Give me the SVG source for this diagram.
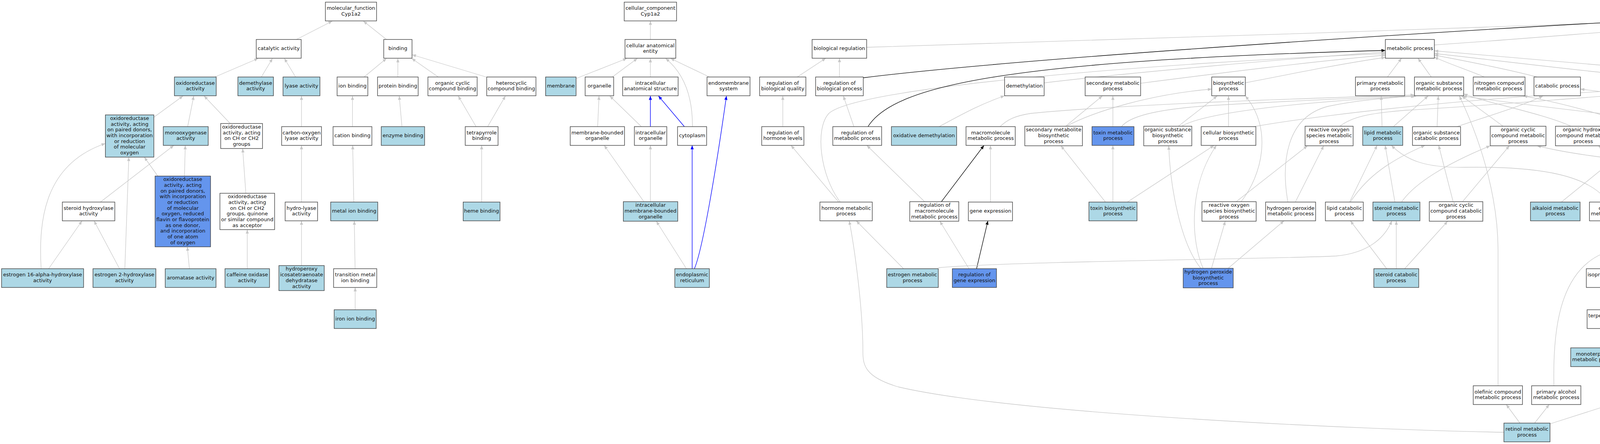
<svg xmlns="http://www.w3.org/2000/svg" width="6264" height="1136" viewBox="0 0 6264 1136">
<defs>
<style>
.w{fill:#ffffff}.lb{fill:#add8e6}.cb{fill:#6495ed}
.nd rect{stroke:#404040;stroke-width:1.4}
.nd text{font-family:"DejaVu Sans","Liberation Sans",sans-serif;font-size:13px;text-anchor:middle;fill:#111111}
.e{fill:none;stroke:#c8c8c8;stroke-width:1.3;marker-end:url(#ag)}
.eb{fill:none;stroke:#0000ff;stroke-width:1.4;marker-end:url(#ab)}
.ek{fill:none;stroke:#000000;stroke-width:1.3;marker-end:url(#ak)}
</style>
<marker id="ag" viewBox="0 0 10 8" markerWidth="10" markerHeight="8" refX="10" refY="4" orient="auto" markerUnits="userSpaceOnUse"><path d="M0,0 L10,4 L0,8 z" fill="#c8c8c8"/></marker>
<marker id="ab" viewBox="0 0 10 8" markerWidth="10" markerHeight="8" refX="10" refY="4" orient="auto" markerUnits="userSpaceOnUse"><path d="M0,0 L10,4 L0,8 z" fill="#0000ff"/></marker>
<marker id="ak" viewBox="0 0 10 8" markerWidth="10" markerHeight="8" refX="10" refY="4" orient="auto" markerUnits="userSpaceOnUse"><path d="M0,0 L10,4 L0,8 z" fill="#000000"/></marker>
</defs>
<rect x="0" y="0" width="6264" height="1136" fill="#ffffff"/>
<g id="connectors">
<path class="e" d="M758.8,101 L850.6,54"/>
<path class="e" d="M989.4,101 L930.2,54"/>
<path class="e" d="M550,197 L661,149.5"/>
<path class="e" d="M669,197 L697.6,149.5"/>
<path class="e" d="M756.7,197 L728,149.5"/>
<path class="e" d="M932,197 L989.4,149.5"/>
<path class="e" d="M1018.5,197 L1018.5,149.5"/>
<path class="e" d="M1122,197 L1054,149.5"/>
<path class="e" d="M1244.5,197 L1055,140"/>
<path class="e" d="M393.8,300 L468.6,245.5"/>
<path class="e" d="M480.4,324 L496,245.5"/>
<path class="e" d="M589.4,316 L522.4,245.5"/>
<path class="e" d="M404,450.5 L369.4,402"/>
<path class="e" d="M472.2,450.5 L474.3,372"/>
<path class="e" d="M257,517 L445,372"/>
<path class="e" d="M629.4,494.5 L621.2,380"/>
<path class="e" d="M105.3,687.5 C98,560 115,420 269.8,367"/>
<path class="e" d="M124.5,687.5 L210,565"/>
<path class="e" d="M306,687.5 L240.8,565"/>
<path class="e" d="M319.6,687.5 L329.8,402"/>
<path class="e" d="M484.9,687.5 L479.6,631.5"/>
<path class="e" d="M633,687.5 L633,587.5"/>
<path class="e" d="M771.8,324 L771.8,245.5"/>
<path class="e" d="M771.8,517 L771.8,372"/>
<path class="e" d="M771.8,679.5 L771.8,565"/>
<path class="e" d="M902.4,324 L902.4,245.5"/>
<path class="e" d="M905.7,517 L902.9,372"/>
<path class="e" d="M909,687.5 L907,565"/>
<path class="e" d="M909.3,792.5 L909.3,735.5"/>
<path class="e" d="M1029,324 L1022,245.5"/>
<path class="e" d="M1218.8,324 L1173,245.5"/>
<path class="e" d="M1248.3,324 L1293.9,245.5"/>
<path class="e" d="M1233,517 L1233,372"/>
<path class="e" d="M1665,101 L1665,53.5"/>
<path class="e" d="M1474.6,201 L1604.8,149.5"/>
<path class="e" d="M1567.5,197 L1631.7,149.5"/>
<path class="e" d="M1665,197 L1665,149.5"/>
<path class="e" d="M1772.7,324 C1773,265 1760,195 1704,149.5"/>
<path class="e" d="M1816.2,197 L1716.7,149.5"/>
<path class="e" d="M1530,324 L1533.5,245.5"/>
<path class="e" d="M1642,324 L1561,245.5"/>
<path class="eb" d="M1665,324 L1665,245.5"/>
<path class="eb" d="M1752,324 L1685.6,245.5"/>
<path class="e" d="M1648.3,516 L1546.8,372"/>
<path class="e" d="M1665,516 L1665,372"/>
<path class="e" d="M1757.3,687.5 L1680.2,566"/>
<path class="eb" d="M1771.9,687.5 L1771.9,372"/>
<path class="eb" d="M1777.7,687.5 C1800,635 1835,420 1859.7,245.5"/>
<path class="e" d="M4620,101 L4620,53.5"/>
<path class="e" d="M4866.6,108 L4683.5,52"/>
<path class="e" d="M5860,119.5 C5500,95 5000,55 4683.5,36"/>
<path class="e" d="M5707.7,208 C5400,175 5000,85 4683.5,44"/>
<path class="e" d="M3672,115 C3900,100 4300,65 4557,50"/>
<path class="e" d="M2218.6,121 C2800,108 4000,60 4557,43"/>
<path class="ek" d="M2210,199 C2600,150 3800,70 4557,35"/>
<path class="e" d="M4908,197 L4908,149"/>
<path class="e" d="M4849,200 L4674,146"/>
<path class="e" d="M5401,212 C5250,190 5050,150 4949.5,135"/>
<path class="e" d="M4495.6,197 L4578.5,149"/>
<path class="e" d="M4390,212 C4100,190 3800,150 3672,137"/>
<path class="e" d="M4584,206 C4300,185 3900,150 3672,130"/>
<path class="e" d="M3552,197 L3588,149"/>
<path class="e" d="M3664,197 L3630,149"/>
<path class="e" d="M3800,197 C3760,180 3700,160 3672,146"/>
<path class="e" d="M3935,197 C3850,175 3720,150 3672,141"/>
<path class="e" d="M2673,212 C2900,185 3300,150 3546.5,133"/>
<path class="e" d="M2920,213 C3100,190 3350,158 3546.5,141"/>
<path class="e" d="M3188,212 C3300,190 3450,160 3546.5,147"/>
<path class="e" d="M2151,517 C2100,450 2085,330 2122,290 C2200,220 3000,160 3546.5,137"/>
<path class="ek" d="M2222,324 C2290,215 2600,155 3546.5,129"/>
<path class="e" d="M5098,323 C5000,300 4700,255 4513,226"/>
<path class="e" d="M5276,687.5 C5285,560 5270,330 5200,285 C5100,250 4850,240 4709,232"/>
<path class="e" d="M4930,517 C5000,440 5060,330 4990,295 C4850,265 4650,250 4513,238"/>
<path class="e" d="M5004.5,797 L5213.8,735.5"/>
<path class="e" d="M4867,806 C4700,790 4620,770 4590,700 C4555,620 4560,450 4570,372"/>
<path class="e" d="M4551.5,324 L4479,245.5"/>
<path class="e" d="M4545,324 C4400,290 4200,245 4046,228"/>
<path class="e" d="M4433.4,324 L4445.8,245.5"/>
<path class="e" d="M4460,324 L4591,245.5"/>
<path class="e" d="M4370,324 C4200,300 3900,270 3745,245.5"/>
<path class="e" d="M4717,324 L4513,239"/>
<path class="e" d="M4898,323 C4850,300 4700,270 4513,233"/>
<path class="e" d="M4734,517 L4763,372"/>
<path class="e" d="M4752.6,517 L4904,373"/>
<path class="e" d="M4680,517 C4550,480 4350,430 4280,373"/>
<path class="e" d="M4885,517 L4788,372"/>
<path class="e" d="M4906,517 L4924.6,373"/>
<path class="e" d="M4880,517 C4780,430 4200,440 3935,373"/>
<path class="e" d="M2041,197 L2114,149"/>
<path class="e" d="M2149,197 L2149,149"/>
<path class="e" d="M2004,324 L2004,245.5"/>
<path class="e" d="M2186,324 L2159,245.5"/>
<path class="e" d="M2147,517 L2025,372"/>
<path class="e" d="M2367,516 L2219,372"/>
<path class="ek" d="M2410,516 L2519,372"/>
<path class="e" d="M2535.6,517 L2535.6,372"/>
<path class="ek" d="M2500,687.5 L2529,565"/>
<path class="e" d="M2480.6,687.5 L2406,566"/>
<path class="e" d="M2313,687.5 L2192,565"/>
<path class="e" d="M2402,685 C2600,668 3300,662 3420,655 C3500,648 3545,610 3563,565"/>
<path class="e" d="M3850,1106 C3500,1100 2600,1060 2300,990 C2215,965 2209,935 2209,900 C2209,780 2185,620 2174,565"/>
<path class="e" d="M2404,324 C2450,300 2500,270 2571.7,245"/>
<path class="e" d="M2560,324 C2580,305 2600,296 2640,290 C2900,265 3400,250 3621,243"/>
<path class="e" d="M2728,323 L2822,245.5"/>
<path class="e" d="M2730,323 C2800,285 2950,240 3102,228"/>
<path class="e" d="M2849,324 L2849,245.5"/>
<path class="e" d="M2871,324 C2890,300 2950,280 3100,270 C3300,258 3500,250 3623,245.5"/>
<path class="e" d="M2849,517 L2849,372"/>
<path class="e" d="M2830,517 L2716,373"/>
<path class="e" d="M2886,517 L3108,372"/>
<path class="e" d="M3016.5,323 L3116,245.5"/>
<path class="e" d="M3025,323 C3080,290 3300,262 3625,246"/>
<path class="e" d="M3145,324 L3145,245.5"/>
<path class="e" d="M3210,324 C3400,290 3900,235 4390,222"/>
<path class="e" d="M3164.7,516 L3347,373"/>
<path class="e" d="M3177,516 C3230,450 3260,330 3188,245.5"/>
<path class="e" d="M3144,686.5 L3287,565"/>
<path class="e" d="M3101.4,686.5 L3136.7,566"/>
<path class="e" d="M3074,686.5 C3020,620 2995,470 2992,373"/>
<path class="e" d="M3080,686.5 C3050,620 3040,480 3114,372"/>
<path class="e" d="M3316,517 L3388.6,373"/>
<path class="e" d="M3297,517 C3280,420 3290,300 3400,272 C3480,255 3560,250 3622,246"/>
<path class="e" d="M3430,323 C3460,300 3500,290 3600,282 C3900,265 4200,235 4390,228"/>
<path class="e" d="M3538,324 L3536,245.5"/>
<path class="e" d="M3567,324 L3656,245.5"/>
<path class="e" d="M3679,324 L3682,245.5"/>
<path class="e" d="M3730,324 C3800,300 3900,270 3950,245.5"/>
<path class="e" d="M3847.8,323 L3742,245.5"/>
<path class="e" d="M4022,323 C3950,290 3800,262 3747,240"/>
<path class="e" d="M4187.7,323 C4100,290 3980,260 3900,245.5"/>
<path class="e" d="M3720,516 L3683,372"/>
<path class="e" d="M3744,516 L3864,373"/>
<path class="e" d="M3455,517 L3525.4,372"/>
<path class="e" d="M3457,517 C3500,450 3560,410 3648,372"/>
<path class="e" d="M3571,517 L3546,372"/>
<path class="e" d="M3588,517 C3620,470 3700,420 3815,373"/>
<path class="e" d="M3574.5,687.5 L3574.5,565"/>
<path class="e" d="M3550,687.5 L3457,565"/>
<path class="e" d="M3596,687.5 L3706,566"/>
<path class="e" d="M3997,517 L4175,373"/>
<path class="e" d="M4117,517 C4070,450 3950,425 3750,428 C3650,430 3600,410 3562,372"/>
<path class="e" d="M4150,517 C4250,430 4330,420 4350,340 C4360,300 4390,270 4410,245.5"/>
<path class="e" d="M4262,517 L4092,373"/>
<path class="e" d="M4304,517 C4340,460 4500,430 4610,425 C4700,420 4680,300 4657,245.5"/>
<path class="e" d="M4132,687.5 L4132,565"/>
<path class="e" d="M4132,792.5 L4132,735.5"/>
<path class="e" d="M4096.5,890 L4119,840.5"/>
<path class="e" d="M4208.4,890 L4156.6,840.5"/>
<path class="e" d="M4196,987 L4221,938"/>
<path class="e" d="M3968,1084.5 L4120,1036"/>
<path class="e" d="M3891,1082.5 L3856,1035"/>
<path class="e" d="M3928.6,1082.5 L3966,1035"/>
<path class="e" d="M3835,987 L3835,640 C3835,520 3800,380 3736,245.5"/>
<path class="e" d="M3978,987 C3975,850 3990,700 4100,650 C4200,615 4240,600 4262,565"/>
<path class="e" d="M4402,890 L4406.5,841.5"/>
<path class="e" d="M4378,890 L4150,565"/>
<path class="e" d="M4417,791.5 L4419,735.5"/>
<path class="e" d="M4423,687.5 L4427,565"/>
<path class="e" d="M4429,517 L4429,372"/>
<path class="e" d="M4728,686.5 L4728,565"/>
<path class="e" d="M5116.4,687.5 L5124.7,566"/>
<path class="e" d="M5129,516 L5146.7,373"/>
<path class="e" d="M5381.7,324 L5429.4,245.5"/>
<path class="e" d="M5504,323 L5458.4,245.5"/>
<path class="e" d="M5491.6,323 C5440,285 5250,240 4966.5,228"/>
<path class="e" d="M5636,324 C5600,290 5540,262 5484.5,244"/>
<path class="e" d="M5368,516 L5368,372"/>
<path class="e" d="M5386,516 L5500,373"/>
<path class="eb" d="M5287.6,687.5 L5354.8,566"/>
<path class="e" d="M5522.7,516 L5519.8,373"/>
<path class="e" d="M5543,516 L5651,372"/>
<path class="e" d="M5651,517 L5666,372"/>
<path class="e" d="M5524,687.5 L5524,566"/>
<path class="e" d="M5545.5,687.5 C5580,640 5615,600 5637,565"/>
<path class="e" d="M5651,687.5 L5650.5,565"/>
<path class="e" d="M5574.5,792.5 L5541,735.5"/>
<path class="e" d="M5601.4,792.5 L5637,735.5"/>
<path class="e" d="M5985,197 L5941.5,149"/>
<path class="e" d="M5871,324 L5798.5,245.5"/>
<path class="e" d="M5916.6,324 L5987,245.5"/>
<path class="e" d="M5769.5,517 L5773.6,245.5"/>
<path class="eb" d="M5784,517 L5879,372"/>
<path class="eb" d="M5916.6,517 L5898,372"/>
<path class="e" d="M5933,517 C5990,450 6005,330 6008,245.5"/>
<path class="eb" d="M6060,517 C6030,490 5980,420 5925,372"/>
<path class="e" d="M6074,517 C6060,430 6040,330 6022,245.5"/>
<path class="e" d="M6198.5,517 C6130,450 6080,330 6028.5,245.5"/>
<path class="e" d="M5923,687.5 L5920.7,565"/>
<path class="e" d="M6095,687.5 L6082.5,565"/>
<path class="e" d="M6115.6,687.5 L6194,565"/>
<path class="eb" d="M6059.6,792.5 L5966,735.5"/>
<path class="eb" d="M6098,792.5 L6098,735.5"/>
<path class="e" d="M6132,792.5 C6190,760 6215,680 6212,565"/>
</g>
<g id="nodes">
<g id="n_mf" class="nd"><rect class="w" x="833" y="5.5" width="131" height="48"/><text><tspan x="898.5" y="25.15">molecular_function</tspan><tspan x="898.5" y="39.85">Cyp1a2</tspan></text></g>
<g id="n_cat" class="nd"><rect class="w" x="656" y="101" width="115" height="48"/><text><tspan x="713.5" y="128">catalytic activity</tspan></text></g>
<g id="n_bind" class="nd"><rect class="w" x="982.4" y="101" width="72.3" height="48"/><text><tspan x="1018.5" y="128">binding</tspan></text></g>
<g id="n_oxred" class="nd"><rect class="lb" x="446.5" y="197" width="107" height="48"/><text><tspan x="500" y="216.65">oxidoreductase</tspan><tspan x="500" y="231.35">activity</tspan></text></g>
<g id="n_demeth" class="nd"><rect class="lb" x="609" y="197" width="91" height="48"/><text><tspan x="654.5" y="216.65">demethylase</tspan><tspan x="654.5" y="231.35">activity</tspan></text></g>
<g id="n_lyase" class="nd"><rect class="lb" x="724.5" y="197" width="94.5" height="48"/><text><tspan x="771.75" y="224">lyase activity</tspan></text></g>
<g id="n_ionb" class="nd"><rect class="w" x="863" y="197" width="78.6" height="48"/><text><tspan x="902.3" y="224">ion binding</tspan></text></g>
<g id="n_protb" class="nd"><rect class="w" x="966.5" y="197" width="104" height="48"/><text><tspan x="1018.5" y="224">protein binding</tspan></text></g>
<g id="n_occb" class="nd"><rect class="w" x="1095.5" y="197" width="126" height="48"/><text><tspan x="1158.5" y="216.65">organic cyclic</tspan><tspan x="1158.5" y="231.35">compound binding</tspan></text></g>
<g id="n_hcb" class="nd"><rect class="w" x="1246" y="197" width="126" height="48"/><text><tspan x="1309" y="216.65">heterocyclic</tspan><tspan x="1309" y="231.35">compound binding</tspan></text></g>
<g id="n_pd7" class="nd"><rect class="lb" x="269.8" y="294" width="124" height="108"/><text><tspan x="331.8" y="306.9">oxidoreductase</tspan><tspan x="331.8" y="321.6">activity, acting</tspan><tspan x="331.8" y="336.3">on paired donors,</tspan><tspan x="331.8" y="351">with incorporation</tspan><tspan x="331.8" y="365.7">or reduction</tspan><tspan x="331.8" y="380.4">of molecular</tspan><tspan x="331.8" y="395.1">oxygen</tspan></text></g>
<g id="n_mono" class="nd"><rect class="lb" x="418" y="324" width="115" height="48"/><text><tspan x="475.5" y="343.65">monooxygenase</tspan><tspan x="475.5" y="358.35">activity</tspan></text></g>
<g id="n_ch4" class="nd"><rect class="w" x="565" y="316" width="107" height="64"/><text><tspan x="618.5" y="328.95">oxidoreductase</tspan><tspan x="618.5" y="343.65">activity, acting</tspan><tspan x="618.5" y="358.35">on CH or CH2</tspan><tspan x="618.5" y="373.05">groups</tspan></text></g>
<g id="n_col" class="nd"><rect class="w" x="721" y="324" width="102" height="48"/><text><tspan x="772" y="343.65">carbon-oxygen</tspan><tspan x="772" y="358.35">lyase activity</tspan></text></g>
<g id="n_cation" class="nd"><rect class="w" x="852.6" y="324" width="99.4" height="48"/><text><tspan x="902.3" y="351">cation binding</tspan></text></g>
<g id="n_enz" class="nd"><rect class="lb" x="976" y="324" width="111" height="48"/><text><tspan x="1031.5" y="351">enzyme binding</tspan></text></g>
<g id="n_tetb" class="nd"><rect class="w" x="1191" y="324" width="84" height="48"/><text><tspan x="1233" y="343.65">tetrapyrrole</tspan><tspan x="1233" y="358.35">binding</tspan></text></g>
<g id="n_pd12" class="nd"><rect class="cb" x="397" y="450.5" width="142" height="181"/><text><tspan x="468" y="463.15">oxidoreductase</tspan><tspan x="468" y="477.85">activity, acting</tspan><tspan x="468" y="492.55">on paired donors,</tspan><tspan x="468" y="507.25">with incorporation</tspan><tspan x="468" y="521.95">or reduction</tspan><tspan x="468" y="536.65">of molecular</tspan><tspan x="468" y="551.35">oxygen, reduced</tspan><tspan x="468" y="566.05">flavin or flavoprotein</tspan><tspan x="468" y="580.75">as one donor,</tspan><tspan x="468" y="595.45">and incorporation</tspan><tspan x="468" y="610.15">of one atom</tspan><tspan x="468" y="624.85">of oxygen</tspan></text></g>
<g id="n_quin" class="nd"><rect class="w" x="563" y="494.5" width="140" height="93"/><text><tspan x="633" y="507.25">oxidoreductase</tspan><tspan x="633" y="521.95">activity, acting</tspan><tspan x="633" y="536.65">on CH or CH2</tspan><tspan x="633" y="551.35">groups, quinone</tspan><tspan x="633" y="566.05">or similar compound</tspan><tspan x="633" y="580.75">as acceptor</tspan></text></g>
<g id="n_sth" class="nd"><rect class="w" x="159.6" y="517" width="134.3" height="48"/><text><tspan x="226.7" y="536.65">steroid hydroxylase</tspan><tspan x="226.7" y="551.35">activity</tspan></text></g>
<g id="n_hydro" class="nd"><rect class="w" x="730" y="517" width="83" height="48"/><text><tspan x="771.5" y="536.65">hydro-lyase</tspan><tspan x="771.5" y="551.35">activity</tspan></text></g>
<g id="n_metal" class="nd"><rect class="lb" x="846.5" y="517" width="120.5" height="48"/><text><tspan x="906.7" y="544">metal ion binding</tspan></text></g>
<g id="n_heme" class="nd"><rect class="lb" x="1185.7" y="517" width="94.3" height="48"/><text><tspan x="1232.8" y="544">heme binding</tspan></text></g>
<g id="n_e16" class="nd"><rect class="lb" x="4" y="687.5" width="210" height="48"/><text><tspan x="109" y="707.15">estrogen 16-alpha-hydroxylase</tspan><tspan x="109" y="721.85">activity</tspan></text></g>
<g id="n_e2" class="nd"><rect class="lb" x="238" y="687.5" width="161" height="48"/><text><tspan x="318.5" y="707.15">estrogen 2-hydroxylase</tspan><tspan x="318.5" y="721.85">activity</tspan></text></g>
<g id="n_arom" class="nd"><rect class="lb" x="423" y="687.5" width="130" height="48"/><text><tspan x="488" y="714.5">aromatase activity</tspan></text></g>
<g id="n_caff" class="nd"><rect class="lb" x="576" y="687.5" width="114" height="48"/><text><tspan x="633" y="707.15">caffeine oxidase</tspan><tspan x="633" y="721.85">activity</tspan></text></g>
<g id="n_hpx" class="nd"><rect class="lb" x="714" y="679.5" width="116" height="64"/><text><tspan x="772" y="692.45">hydroperoxy</tspan><tspan x="772" y="707.15">icosatetraenoate</tspan><tspan x="772" y="721.85">dehydratase</tspan><tspan x="772" y="736.55">activity</tspan></text></g>
<g id="n_trans" class="nd"><rect class="w" x="854" y="687.5" width="110.5" height="48"/><text><tspan x="909.25" y="707.15">transition metal</tspan><tspan x="909.25" y="721.85">ion binding</tspan></text></g>
<g id="n_iron" class="nd"><rect class="lb" x="855.5" y="792.5" width="107.5" height="48"/><text><tspan x="909.25" y="819.5">iron ion binding</tspan></text></g>
<g id="n_cc" class="nd"><rect class="w" x="1598" y="5.5" width="134" height="48"/><text><tspan x="1665" y="25.15">cellular_component</tspan><tspan x="1665" y="39.85">Cyp1a2</tspan></text></g>
<g id="n_cae" class="nd"><rect class="w" x="1600" y="101" width="130" height="48"/><text><tspan x="1665" y="120.65">cellular anatomical</tspan><tspan x="1665" y="135.35">entity</tspan></text></g>
<g id="n_memb" class="nd"><rect class="lb" x="1396.7" y="197" width="78" height="48"/><text><tspan x="1435.7" y="224">membrane</tspan></text></g>
<g id="n_org" class="nd"><rect class="w" x="1498" y="197" width="73" height="48"/><text><tspan x="1534.5" y="224">organelle</tspan></text></g>
<g id="n_ias" class="nd"><rect class="w" x="1594" y="197" width="142" height="48"/><text><tspan x="1665" y="216.65">intracellular</tspan><tspan x="1665" y="231.35">anatomical structure</tspan></text></g>
<g id="n_endo" class="nd"><rect class="w" x="1810" y="197" width="110" height="48"/><text><tspan x="1865" y="216.65">endomembrane</tspan><tspan x="1865" y="231.35">system</tspan></text></g>
<g id="n_mbo" class="nd"><rect class="w" x="1459.7" y="324" width="139" height="48"/><text><tspan x="1529.2" y="343.65">membrane-bounded</tspan><tspan x="1529.2" y="358.35">organelle</tspan></text></g>
<g id="n_io" class="nd"><rect class="w" x="1624" y="324" width="83" height="48"/><text><tspan x="1665.5" y="343.65">intracellular</tspan><tspan x="1665.5" y="358.35">organelle</tspan></text></g>
<g id="n_cyto" class="nd"><rect class="w" x="1734.5" y="324" width="74.5" height="48"/><text><tspan x="1771.75" y="351">cytoplasm</tspan></text></g>
<g id="n_imbo" class="nd"><rect class="lb" x="1595.7" y="516" width="139.3" height="50"/><text><tspan x="1665.35" y="529.3">intracellular</tspan><tspan x="1665.35" y="544">membrane-bounded</tspan><tspan x="1665.35" y="558.7">organelle</tspan></text></g>
<g id="n_er" class="nd"><rect class="lb" x="1727.5" y="687.5" width="88.5" height="48"/><text><tspan x="1771.75" y="707.15">endoplasmic</tspan><tspan x="1771.75" y="721.85">reticulum</tspan></text></g>
<g id="n_bp" class="nd"><rect class="w" x="4557" y="5.5" width="126" height="48"/><text><tspan x="4620" y="25.15">biological_process</tspan><tspan x="4620" y="39.85">Cyp1a2</tspan></text></g>
<g id="n_breg" class="nd"><rect class="w" x="2079" y="101" width="139.6" height="48"/><text><tspan x="2148.8" y="128">biological regulation</tspan></text></g>
<g id="n_mp" class="nd"><rect class="w" x="3546.5" y="101" width="125.5" height="48"/><text><tspan x="3609.25" y="128">metabolic process</tspan></text></g>
<g id="n_cp" class="nd"><rect class="w" x="4566" y="101" width="108" height="48"/><text><tspan x="4620" y="128">cellular process</tspan></text></g>
<g id="n_rs" class="nd"><rect class="w" x="4866.6" y="101" width="83" height="48"/><text><tspan x="4908.1" y="120.65">response to</tspan><tspan x="4908.1" y="135.35">stimulus</tspan></text></g>
<g id="n_dev" class="nd"><rect class="w" x="5860" y="101" width="104" height="48"/><text><tspan x="5912" y="120.65">developmental</tspan><tspan x="5912" y="135.35">process</tspan></text></g>
<g id="n_rbq" class="nd"><rect class="w" x="1944.6" y="197" width="118.4" height="48"/><text><tspan x="2003.8" y="216.65">regulation of</tspan><tspan x="2003.8" y="231.35">biological quality</tspan></text></g>
<g id="n_rbp" class="nd"><rect class="w" x="2088" y="197" width="122" height="48"/><text><tspan x="2149" y="216.65">regulation of</tspan><tspan x="2149" y="231.35">biological process</tspan></text></g>
<g id="n_demethp" class="nd"><rect class="w" x="2571.7" y="197" width="101.3" height="48"/><text><tspan x="2622.35" y="224">demethylation</tspan></text></g>
<g id="n_smp" class="nd"><rect class="w" x="2778" y="197" width="142" height="48"/><text><tspan x="2849" y="216.65">secondary metabolic</tspan><tspan x="2849" y="231.35">process</tspan></text></g>
<g id="n_bio" class="nd"><rect class="w" x="3102" y="197" width="86" height="48"/><text><tspan x="3145" y="216.65">biosynthetic</tspan><tspan x="3145" y="231.35">process</tspan></text></g>
<g id="n_pmp" class="nd"><rect class="w" x="3470" y="197" width="126" height="48"/><text><tspan x="3533" y="216.65">primary metabolic</tspan><tspan x="3533" y="231.35">process</tspan></text></g>
<g id="n_osmp" class="nd"><rect class="w" x="3621" y="197" width="126" height="48"/><text><tspan x="3684" y="216.65">organic substance</tspan><tspan x="3684" y="231.35">metabolic process</tspan></text></g>
<g id="n_ncmp" class="nd"><rect class="w" x="3771.5" y="197" width="132.5" height="48"/><text><tspan x="3837.75" y="216.65">nitrogen compound</tspan><tspan x="3837.75" y="231.35">metabolic process</tspan></text></g>
<g id="n_catp" class="nd"><rect class="w" x="3927" y="197" width="119" height="48"/><text><tspan x="3986.5" y="224">catabolic process</tspan></text></g>
<g id="n_cmp" class="nd"><rect class="w" x="4390" y="197" width="123" height="48"/><text><tspan x="4451.5" y="216.65">cellular metabolic</tspan><tspan x="4451.5" y="231.35">process</tspan></text></g>
<g id="n_smmp" class="nd"><rect class="w" x="4584" y="197" width="125" height="48"/><text><tspan x="4646.5" y="216.65">small molecule</tspan><tspan x="4646.5" y="231.35">metabolic process</tspan></text></g>
<g id="n_crs" class="nd"><rect class="w" x="4849" y="197" width="117.5" height="48"/><text><tspan x="4907.75" y="216.65">cellular response</tspan><tspan x="4907.75" y="231.35">to stimulus</tspan></text></g>
<g id="n_rchem" class="nd"><rect class="w" x="5401" y="197" width="83.5" height="48"/><text><tspan x="5442.75" y="216.65">response to</tspan><tspan x="5442.75" y="231.35">chemical</tspan></text></g>
<g id="n_mop" class="nd"><rect class="w" x="5707.7" y="197" width="134" height="48"/><text><tspan x="5774.7" y="216.65">multicellular</tspan><tspan x="5774.7" y="231.35">organismal process</tspan></text></g>
<g id="n_asd" class="nd"><rect class="w" x="5940" y="197" width="141" height="48"/><text><tspan x="6010.5" y="216.65">anatomical structure</tspan><tspan x="6010.5" y="231.35">development</tspan></text></g>
<g id="n_rhl" class="nd"><rect class="w" x="1950" y="324" width="108" height="48"/><text><tspan x="2004" y="343.65">regulation of</tspan><tspan x="2004" y="358.35">hormone levels</tspan></text></g>
<g id="n_rmp" class="nd"><rect class="w" x="2132" y="324" width="125" height="48"/><text><tspan x="2194.5" y="343.65">regulation of</tspan><tspan x="2194.5" y="358.35">metabolic process</tspan></text></g>
<g id="n_oxdm" class="nd"><rect class="lb" x="2282" y="324" width="167" height="48"/><text><tspan x="2365.5" y="351">oxidative demethylation</tspan></text></g>
<g id="n_mmp" class="nd"><rect class="w" x="2473" y="324" width="126" height="48"/><text><tspan x="2536" y="343.65">macromolecule</tspan><tspan x="2536" y="358.35">metabolic process</tspan></text></g>
<g id="n_smbp" class="nd"><rect class="w" x="2623.5" y="323" width="147.5" height="50"/><text><tspan x="2697.25" y="336.3">secondary metabolite</tspan><tspan x="2697.25" y="351">biosynthetic</tspan><tspan x="2697.25" y="365.7">process</tspan></text></g>
<g id="n_tmp" class="nd"><rect class="cb" x="2795.5" y="324" width="107.5" height="48"/><text><tspan x="2849.25" y="343.65">toxin metabolic</tspan><tspan x="2849.25" y="358.35">process</tspan></text></g>
<g id="n_osbp" class="nd"><rect class="w" x="2928" y="323" width="123" height="50"/><text><tspan x="2989.5" y="336.3">organic substance</tspan><tspan x="2989.5" y="351">biosynthetic</tspan><tspan x="2989.5" y="365.7">process</tspan></text></g>
<g id="n_cbp" class="nd"><rect class="w" x="3075" y="324" width="140" height="48"/><text><tspan x="3145" y="343.65">cellular biosynthetic</tspan><tspan x="3145" y="358.35">process</tspan></text></g>
<g id="n_rosmp" class="nd"><rect class="w" x="3341" y="323" width="123" height="50"/><text><tspan x="3402.5" y="336.3">reactive oxygen</tspan><tspan x="3402.5" y="351">species metabolic</tspan><tspan x="3402.5" y="365.7">process</tspan></text></g>
<g id="n_lmp" class="nd"><rect class="lb" x="3488.5" y="324" width="102.5" height="48"/><text><tspan x="3539.75" y="343.65">lipid metabolic</tspan><tspan x="3539.75" y="358.35">process</tspan></text></g>
<g id="n_oscp" class="nd"><rect class="w" x="3616" y="324" width="123" height="48"/><text><tspan x="3677.5" y="343.65">organic substance</tspan><tspan x="3677.5" y="358.35">catabolic process</tspan></text></g>
<g id="n_occmp" class="nd"><rect class="w" x="3815" y="323" width="142.6" height="50"/><text><tspan x="3886.3" y="336.3">organic cyclic</tspan><tspan x="3886.3" y="351">compound metabolic</tspan><tspan x="3886.3" y="365.7">process</tspan></text></g>
<g id="n_ohcmp" class="nd"><rect class="w" x="3982" y="323" width="142" height="50"/><text><tspan x="4053" y="336.3">organic hydroxy</tspan><tspan x="4053" y="351">compound metabolic</tspan><tspan x="4053" y="365.7">process</tspan></text></g>
<g id="n_oncmp" class="nd"><rect class="w" x="4149" y="323" width="142" height="50"/><text><tspan x="4220" y="336.3">organonitrogen</tspan><tspan x="4220" y="351">compound metabolic</tspan><tspan x="4220" y="365.7">process</tspan></text></g>
<g id="n_oamp" class="nd"><rect class="w" x="4366" y="324" width="126" height="48"/><text><tspan x="4429" y="343.65">organic acid</tspan><tspan x="4429" y="358.35">metabolic process</tspan></text></g>
<g id="n_ccp" class="nd"><rect class="w" x="4516" y="324" width="118" height="48"/><text><tspan x="4575" y="343.65">cellular catabolic</tspan><tspan x="4575" y="358.35">process</tspan></text></g>
<g id="n_hmp" class="nd"><rect class="lb" x="4708" y="324" width="125" height="48"/><text><tspan x="4770.5" y="343.65">heterocycle</tspan><tspan x="4770.5" y="358.35">metabolic process</tspan></text></g>
<g id="n_cacmp" class="nd"><rect class="cb" x="4858" y="323" width="142.5" height="50"/><text><tspan x="4929.25" y="336.3">cellular aromatic</tspan><tspan x="4929.25" y="351">compound metabolic</tspan><tspan x="4929.25" y="365.7">process</tspan></text></g>
<g id="n_gpme" class="nd"><rect class="w" x="5075" y="323" width="150.5" height="50"/><text><tspan x="5150.25" y="336.3">generation of</tspan><tspan x="5150.25" y="351">precursor metabolites</tspan><tspan x="5150.25" y="365.7">and energy</tspan></text></g>
<g id="n_rxs" class="nd"><rect class="w" x="5301" y="324" width="134" height="48"/><text><tspan x="5368" y="343.65">response to</tspan><tspan x="5368" y="358.35">xenobiotic stimulus</tspan></text></g>
<g id="n_crcs" class="nd"><rect class="w" x="5459.7" y="323" width="117.7" height="50"/><text><tspan x="5518.55" y="336.3">cellular response</tspan><tspan x="5518.55" y="351">to chemical</tspan><tspan x="5518.55" y="365.7">stimulus</tspan></text></g>
<g id="n_ris" class="nd"><rect class="w" x="5601" y="324" width="136" height="48"/><text><tspan x="5669" y="343.65">response to</tspan><tspan x="5669" y="358.35">inorganic substance</tspan></text></g>
<g id="n_mod" class="nd"><rect class="w" x="5816" y="324" width="157" height="48"/><text><tspan x="5894.5" y="343.65">multicellular</tspan><tspan x="5894.5" y="358.35">organism development</tspan></text></g>
<g id="n_hormp" class="nd"><rect class="w" x="2099" y="517" width="134" height="48"/><text><tspan x="2166" y="536.65">hormone metabolic</tspan><tspan x="2166" y="551.35">process</tspan></text></g>
<g id="n_rmmp" class="nd"><rect class="w" x="2329" y="516" width="125.5" height="50"/><text><tspan x="2391.75" y="529.3">regulation of</tspan><tspan x="2391.75" y="544">macromolecule</tspan><tspan x="2391.75" y="558.7">metabolic process</tspan></text></g>
<g id="n_gexp" class="nd"><rect class="w" x="2479" y="517" width="113" height="48"/><text><tspan x="2535.5" y="544">gene expression</tspan></text></g>
<g id="n_tbp" class="nd"><rect class="lb" x="2787.6" y="517" width="123.1" height="48"/><text><tspan x="2849.15" y="536.65">toxin biosynthetic</tspan><tspan x="2849.15" y="551.35">process</tspan></text></g>
<g id="n_rosbp" class="nd"><rect class="w" x="3077" y="516" width="138.7" height="50"/><text><tspan x="3146.35" y="529.3">reactive oxygen</tspan><tspan x="3146.35" y="544">species biosynthetic</tspan><tspan x="3146.35" y="558.7">process</tspan></text></g>
<g id="n_h2o2mp" class="nd"><rect class="w" x="3240" y="517" width="128" height="48"/><text><tspan x="3304" y="536.65">hydrogen peroxide</tspan><tspan x="3304" y="551.35">metabolic process</tspan></text></g>
<g id="n_lcp" class="nd"><rect class="w" x="3393" y="517" width="97" height="48"/><text><tspan x="3441.5" y="536.65">lipid catabolic</tspan><tspan x="3441.5" y="551.35">process</tspan></text></g>
<g id="n_stmp" class="nd"><rect class="lb" x="3514.6" y="517" width="120.4" height="48"/><text><tspan x="3574.8" y="536.65">steroid metabolic</tspan><tspan x="3574.8" y="551.35">process</tspan></text></g>
<g id="n_occcp" class="nd"><rect class="w" x="3659" y="516" width="137" height="50"/><text><tspan x="3727.5" y="529.3">organic cyclic</tspan><tspan x="3727.5" y="544">compound catabolic</tspan><tspan x="3727.5" y="558.7">process</tspan></text></g>
<g id="n_alkmp" class="nd"><rect class="lb" x="3918" y="517" width="127" height="48"/><text><tspan x="3981.5" y="536.65">alkaloid metabolic</tspan><tspan x="3981.5" y="551.35">process</tspan></text></g>
<g id="n_clmp" class="nd"><rect class="w" x="4069" y="517" width="126" height="48"/><text><tspan x="4132" y="536.65">cellular lipid</tspan><tspan x="4132" y="551.35">metabolic process</tspan></text></g>
<g id="n_alcmp" class="nd"><rect class="w" x="4218" y="517" width="123" height="48"/><text><tspan x="4279.5" y="536.65">alcohol metabolic</tspan><tspan x="4279.5" y="551.35">process</tspan></text></g>
<g id="n_oxamp" class="nd"><rect class="w" x="4366" y="517" width="126" height="48"/><text><tspan x="4429" y="536.65">oxoacid metabolic</tspan><tspan x="4429" y="551.35">process</tspan></text></g>
<g id="n_tetmp" class="nd"><rect class="w" x="4665" y="517" width="126" height="48"/><text><tspan x="4728" y="536.65">tetrapyrrole</tspan><tspan x="4728" y="551.35">metabolic process</tspan></text></g>
<g id="n_dibz" class="nd"><rect class="cb" x="4839.6" y="517" width="125.4" height="48"/><text><tspan x="4902.3" y="536.65">dibenzo-p-dioxin</tspan><tspan x="4902.3" y="551.35">metabolic process</tspan></text></g>
<g id="n_edoc" class="nd"><rect class="w" x="5051" y="516" width="151" height="50"/><text><tspan x="5126.5" y="529.3">energy derivation</tspan><tspan x="5126.5" y="544">by oxidation</tspan><tspan x="5126.5" y="558.7">of organic compounds</tspan></text></g>
<g id="n_crxs" class="nd"><rect class="w" x="5309" y="516" width="118" height="50"/><text><tspan x="5368" y="529.3">cellular response</tspan><tspan x="5368" y="544">to xenobiotic</tspan><tspan x="5368" y="558.7">stimulus</tspan></text></g>
<g id="n_cris" class="nd"><rect class="w" x="5465" y="516" width="118" height="50"/><text><tspan x="5524" y="529.3">cellular response</tspan><tspan x="5524" y="544">to inorganic</tspan><tspan x="5524" y="558.7">substance</tspan></text></g>
<g id="n_rmi" class="nd"><rect class="w" x="5607.7" y="517" width="83" height="48"/><text><tspan x="5649.2" y="536.65">response to</tspan><tspan x="5649.2" y="551.35">metal ion</tspan></text></g>
<g id="n_ped" class="nd"><rect class="cb" x="5715.6" y="517" width="107.4" height="48"/><text><tspan x="5769.3" y="536.65">post-embryonic</tspan><tspan x="5769.3" y="551.35">development</tspan></text></g>
<g id="n_sysd" class="nd"><rect class="w" x="5848" y="517" width="144" height="48"/><text><tspan x="5920" y="544">system development</tspan></text></g>
<g id="n_tubd" class="nd"><rect class="w" x="6016" y="517" width="125" height="48"/><text><tspan x="6078.5" y="544">tube development</tspan></text></g>
<g id="n_aod" class="nd"><rect class="w" x="6166" y="517" width="92" height="48"/><text><tspan x="6212" y="536.65">animal organ</tspan><tspan x="6212" y="551.35">development</tspan></text></g>
<g id="n_estmp" class="nd"><rect class="lb" x="2270" y="687.5" width="132" height="48"/><text><tspan x="2336" y="707.15">estrogen metabolic</tspan><tspan x="2336" y="721.85">process</tspan></text></g>
<g id="n_rge" class="nd"><rect class="cb" x="2438" y="687.5" width="113" height="48"/><text><tspan x="2494.5" y="707.15">regulation of</tspan><tspan x="2494.5" y="721.85">gene expression</tspan></text></g>
<g id="n_h2o2bp" class="nd"><rect class="cb" x="3029" y="686.5" width="128" height="50"/><text><tspan x="3093" y="699.8">hydrogen peroxide</tspan><tspan x="3093" y="714.5">biosynthetic</tspan><tspan x="3093" y="729.2">process</tspan></text></g>
<g id="n_stcp" class="nd"><rect class="lb" x="3517" y="687.5" width="115" height="48"/><text><tspan x="3574.5" y="707.15">steroid catabolic</tspan><tspan x="3574.5" y="721.85">process</tspan></text></g>
<g id="n_isomp" class="nd"><rect class="w" x="4061" y="687.5" width="142" height="48"/><text><tspan x="4132" y="707.15">isoprenoid metabolic</tspan><tspan x="4132" y="721.85">process</tspan></text></g>
<g id="n_caamp" class="nd"><rect class="w" x="4358.5" y="687.5" width="125.5" height="48"/><text><tspan x="4421.25" y="707.15">carboxylic acid</tspan><tspan x="4421.25" y="721.85">metabolic process</tspan></text></g>
<g id="n_porph" class="nd"><rect class="cb" x="4657" y="686.5" width="142" height="50"/><text><tspan x="4728" y="699.8">porphyrin-containing</tspan><tspan x="4728" y="714.5">compound metabolic</tspan><tspan x="4728" y="729.2">process</tspan></text></g>
<g id="n_cresp" class="nd"><rect class="cb" x="5050.5" y="687.5" width="128.5" height="48"/><text><tspan x="5114.75" y="714.5">cellular respiration</tspan></text></g>
<g id="n_xmp" class="nd"><rect class="cb" x="5203.5" y="687.5" width="142.2" height="48"/><text><tspan x="5274.6" y="707.15">xenobiotic metabolic</tspan><tspan x="5274.6" y="721.85">process</tspan></text></g>
<g id="n_crmi" class="nd"><rect class="w" x="5465" y="687.5" width="118" height="48"/><text><tspan x="5524" y="707.15">cellular response</tspan><tspan x="5524" y="721.85">to metal ion</tspan></text></g>
<g id="n_rcad" class="nd"><rect class="w" x="5607" y="687.5" width="90" height="48"/><text><tspan x="5652" y="707.15">response to</tspan><tspan x="5652" y="721.85">cadmium ion</tspan></text></g>
<g id="n_rsd" class="nd"><rect class="w" x="5852" y="687.5" width="144" height="48"/><text><tspan x="5924" y="707.15">respiratory</tspan><tspan x="5924" y="721.85">system development</tspan></text></g>
<g id="n_rtd" class="nd"><rect class="w" x="6036" y="687.5" width="125" height="48"/><text><tspan x="6098.5" y="707.15">respiratory</tspan><tspan x="6098.5" y="721.85">tube development</tspan></text></g>
<g id="n_terp" class="nd"><rect class="w" x="4063" y="792.5" width="137" height="48"/><text><tspan x="4131.5" y="812.15">terpenoid metabolic</tspan><tspan x="4131.5" y="826.85">process</tspan></text></g>
<g id="n_mcamp" class="nd"><rect class="lb" x="4358.5" y="791.5" width="109.5" height="50"/><text><tspan x="4413.25" y="804.8">monocarboxylic</tspan><tspan x="4413.25" y="819.5">acid metabolic</tspan><tspan x="4413.25" y="834.2">process</tspan></text></g>
<g id="n_xcp" class="nd"><rect class="lb" x="4867" y="792.5" width="137" height="48"/><text><tspan x="4935.5" y="812.15">xenobiotic catabolic</tspan><tspan x="4935.5" y="826.85">process</tspan></text></g>
<g id="n_crcad" class="nd"><rect class="cb" x="5529" y="792.5" width="118" height="48"/><text><tspan x="5588" y="812.15">cellular response</tspan><tspan x="5588" y="826.85">to cadmium ion</tspan></text></g>
<g id="n_lung" class="nd"><rect class="cb" x="6036" y="792.5" width="124" height="48"/><text><tspan x="6098" y="819.5">lung development</tspan></text></g>
<g id="n_monot" class="nd"><rect class="lb" x="4021" y="890" width="126" height="48"/><text><tspan x="4084" y="909.65">monoterpenoid</tspan><tspan x="4084" y="924.35">metabolic process</tspan></text></g>
<g id="n_dit" class="nd"><rect class="w" x="4171" y="890" width="125" height="48"/><text><tspan x="4233.5" y="909.65">diterpenoid</tspan><tspan x="4233.5" y="924.35">metabolic process</tspan></text></g>
<g id="n_fa" class="nd"><rect class="lb" x="4328.6" y="890" width="137.1" height="48"/><text><tspan x="4397.15" y="909.65">fatty acid metabolic</tspan><tspan x="4397.15" y="924.35">process</tspan></text></g>
<g id="n_olef" class="nd"><rect class="w" x="3771.5" y="987" width="126" height="48"/><text><tspan x="3834.5" y="1006.65">olefinic compound</tspan><tspan x="3834.5" y="1021.35">metabolic process</tspan></text></g>
<g id="n_palc" class="nd"><rect class="w" x="3921" y="987" width="126" height="48"/><text><tspan x="3984" y="1006.65">primary alcohol</tspan><tspan x="3984" y="1021.35">metabolic process</tspan></text></g>
<g id="n_retd" class="nd"><rect class="w" x="4120" y="987" width="125" height="48"/><text><tspan x="4182.5" y="1006.65">retinoid metabolic</tspan><tspan x="4182.5" y="1021.35">process</tspan></text></g>
<g id="n_retl" class="nd"><rect class="lb" x="3850" y="1082.5" width="118" height="48"/><text><tspan x="3909" y="1102.15">retinol metabolic</tspan><tspan x="3909" y="1116.85">process</tspan></text></g>
</g>
</svg>
